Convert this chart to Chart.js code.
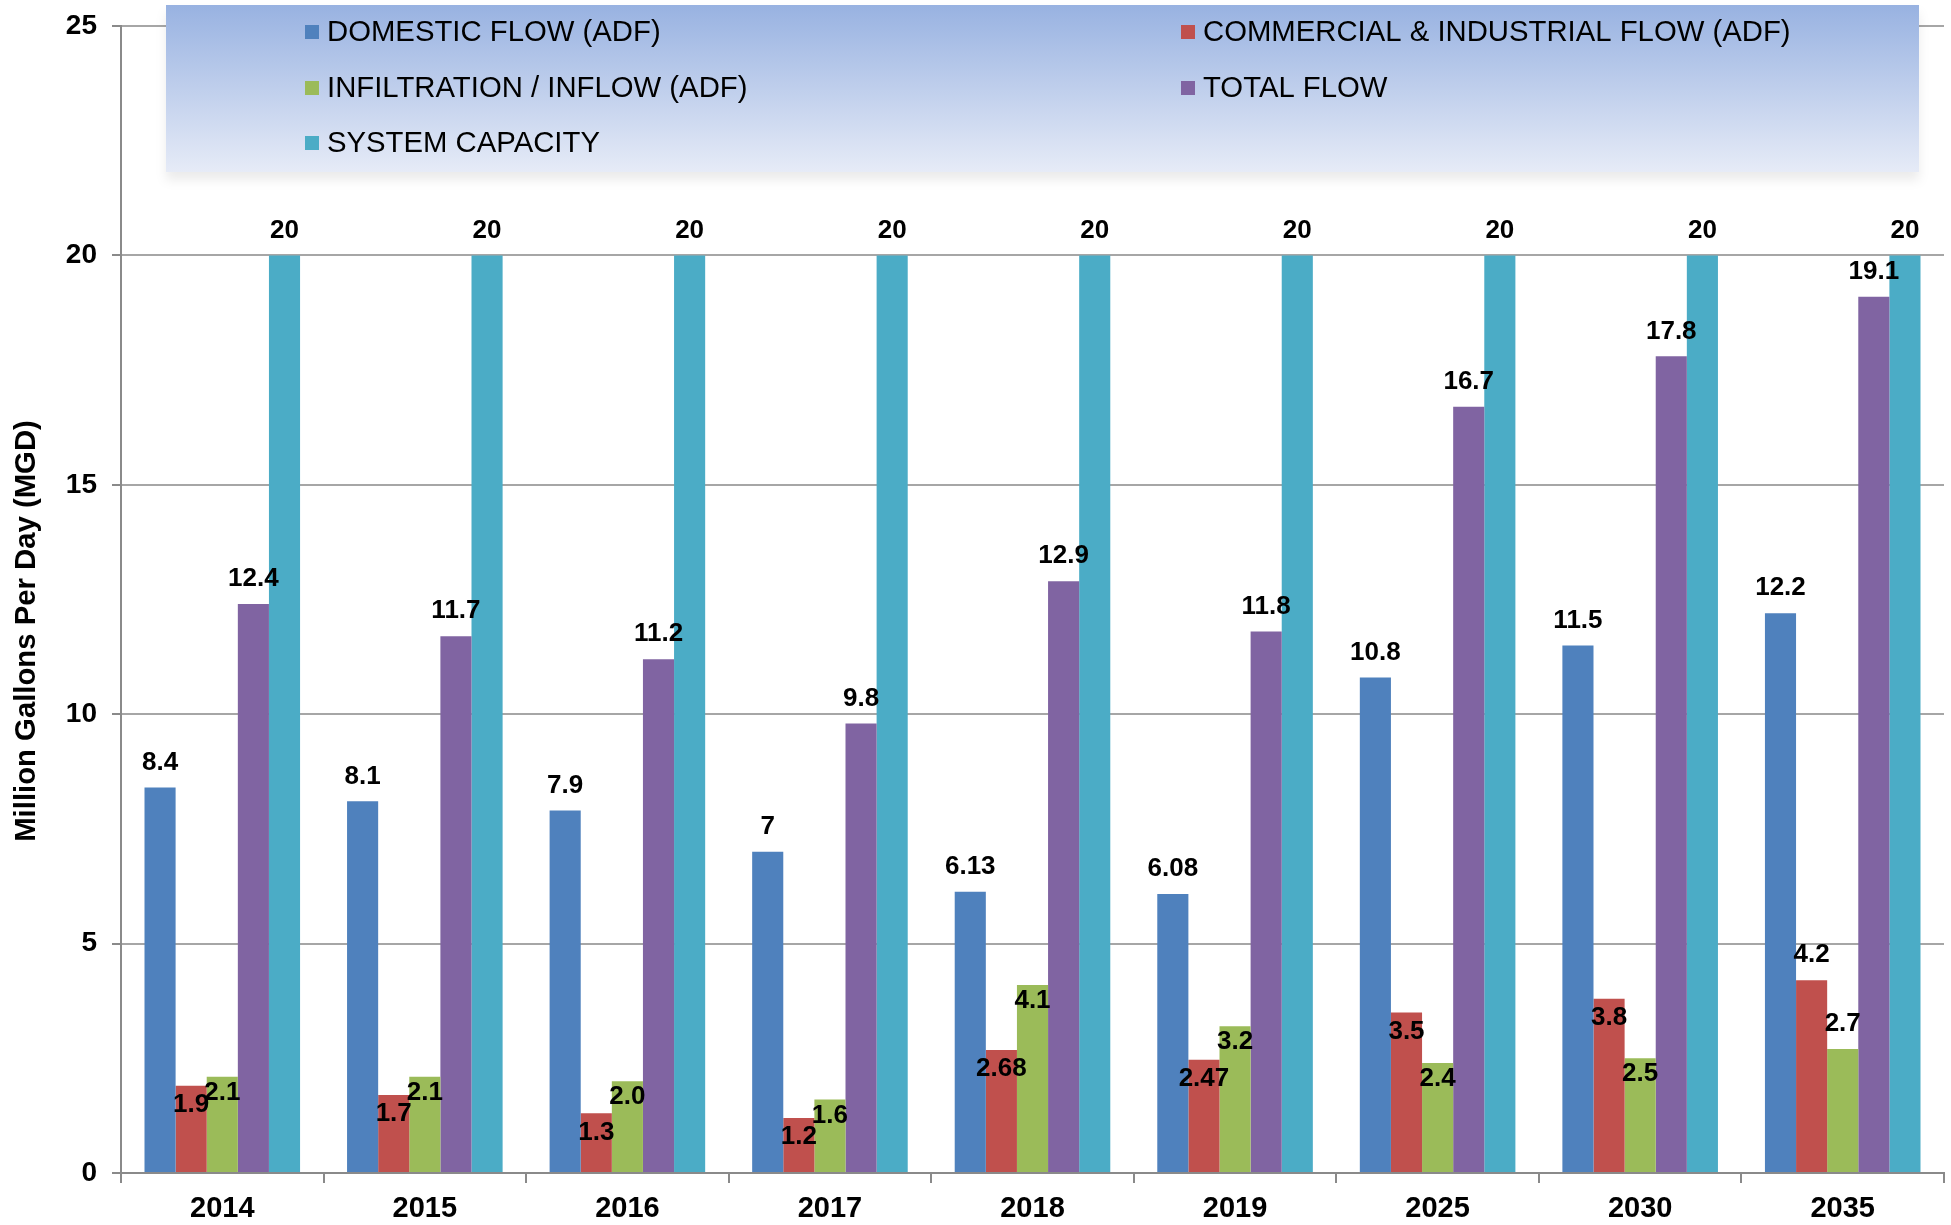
<!DOCTYPE html>
<html>
<head>
<meta charset="utf-8">
<script src="https://cdn.jsdelivr.net/npm/chart.js@4.4.1/dist/chart.umd.min.js"></script>
<style>
    html, body { margin: 0; padding: 0; background: #fff; }
    #wrap { width: 1951px; height: 1225px; }
</style>
</head>
<body>
<div id="wrap"><canvas id="myChart" width="1951" height="1225"></canvas></div>
<script>
// Chart data
const years = ['2014', '2015', '2016', '2017', '2018', '2019', '2025', '2030', '2035'];
const domesticFlow = [8.4, 8.1, 7.9, 7, 6.13, 6.08, 10.8, 11.5, 12.2];
const commercialFlow = [1.9, 1.7, 1.3, 1.2, 2.68, 2.47, 3.5, 3.8, 4.2];
const infiltrationFlow = [2.1, 2.1, 2.0, 1.6, 4.1, 3.2, 2.4, 2.5, 2.7];
const totalFlow = [12.4, 11.7, 11.2, 9.8, 12.9, 11.8, 16.7, 17.8, 19.1];
const systemCapacity = [20, 20, 20, 20, 20, 20, 20, 20, 20];
const yMax = 25;
const yStep = 5;
const yTitle = 'Million Gallons Per Day (MGD)';

// years where the small red / green labels sit above the bar instead of inside
const labelsAboveYears = ['2035'];

const FONT = '"Liberation Sans", Arial, "Helvetica Neue", sans-serif';

// Draws the value labels above / inside the bars
const barLabels = {
    id: 'barLabels',
    afterDatasetsDraw(chart) {
        const ctx = chart.ctx;
        ctx.save();
        ctx.font = 'bold 26px ' + FONT;
        ctx.fillStyle = '#000';
        ctx.textAlign = 'center';
        ctx.textBaseline = 'middle';
        chart.data.datasets.forEach((ds, di) => {
            const meta = chart.getDatasetMeta(di);
            meta.data.forEach((bar, i) => {
                const v = ds.data[i];
                const txt = ds.decimals != null ? v.toFixed(ds.decimals) : String(v);
                const inside = ds.labelInside && !labelsAboveYears.includes(years[i]);
                const y = inside ? bar.y + ds.labelInside : bar.y - 25;
                ctx.fillText(txt, bar.x, y);
            });
        });
        ctx.restore();
    }
};

// Gradient legend box drawn over the top of the plot, plus the y axis title
const boxLegend = {
    id: 'boxLegend',
    beforeDatasetsDraw(chart) {
        const ctx = chart.ctx;
        const box = { x: 166, y: 5, w: 1753, h: 167 };
        ctx.save();
        ctx.shadowColor = 'rgba(0,0,0,0.08)';
        ctx.shadowBlur = 10;
        ctx.shadowOffsetY = 8;
        const grad = ctx.createLinearGradient(0, box.y, 0, box.y + box.h);
        grad.addColorStop(0, '#98b2e1');
        grad.addColorStop(1, '#e6ebf7');
        ctx.fillStyle = grad;
        ctx.fillRect(box.x, box.y, box.w, box.h);
        ctx.restore();

        ctx.save();
        ctx.font = '29.3px ' + FONT;
        ctx.textBaseline = 'middle';
        ctx.textAlign = 'left';
        const cols = [305, 1181];
        const rows = [32, 88, 143];
        chart.data.datasets.forEach((ds, i) => {
            const x = cols[i % 2];
            const y = rows[Math.floor(i / 2)];
            ctx.fillStyle = ds.backgroundColor;
            ctx.fillRect(x, y - 7, 14, 14);
            ctx.fillStyle = '#000';
            ctx.fillText(ds.label, x + 22, y + 1);
        });
        ctx.restore();

        // y axis title, sits a bit below the middle of the axis like the original
        ctx.save();
        ctx.font = 'bold 29.3px ' + FONT;
        ctx.fillStyle = '#000';
        ctx.textAlign = 'center';
        ctx.textBaseline = 'middle';
        ctx.translate(27, 631);
        ctx.rotate(-Math.PI / 2);
        ctx.fillText(yTitle, 0, 0);
        ctx.restore();
    }
};

const ctx = document.getElementById('myChart').getContext('2d');

const chart = new Chart(ctx, {
    type: 'bar',
    data: {
        labels: years,
        datasets: [
            { label: 'DOMESTIC FLOW (ADF)', data: domesticFlow, backgroundColor: '#4f81bd' },
            { label: 'COMMERCIAL & INDUSTRIAL FLOW (ADF)', data: commercialFlow, backgroundColor: '#c0504d', labelInside: 19 },
            { label: 'INFILTRATION / INFLOW (ADF)', data: infiltrationFlow, backgroundColor: '#9bbb59', labelInside: 16, decimals: 1 },
            { label: 'TOTAL FLOW', data: totalFlow, backgroundColor: '#8064a2' },
            { label: 'SYSTEM CAPACITY', data: systemCapacity, backgroundColor: '#4bacc6' }
        ]
    },
    options: {
        responsive: false,
        animation: false,
        devicePixelRatio: 1,
        layout: {
            padding: { top: 26, right: 7, left: 0, bottom: 0 }
        },
        datasets: {
            bar: {
                categoryPercentage: 0.768,
                barPercentage: 1,
                borderWidth: 0
            }
        },
        plugins: {
            legend: { display: false },
            tooltip: { enabled: false }
        },
        scales: {
            x: {
                afterFit: s => { s.height = 52; },
                grid: {
                    offset: true,
                    drawOnChartArea: false,
                    drawTicks: true,
                    tickLength: 10,
                    color: '#8a8a8a',
                    lineWidth: 2
                },
                border: { color: '#8a8a8a', width: 2 },
                ticks: {
                    color: '#000',
                    padding: 9,
                    font: { family: FONT, size: 29, weight: 'bold' }
                }
            },
            y: {
                min: 0,
                max: yMax,
                afterFit: s => { s.width = 121; s.paddingTop = 0; },
                grid: {
                    color: '#a6a6a6',
                    lineWidth: 2,
                    drawTicks: true,
                    tickLength: 9,
                    tickColor: '#8a8a8a'
                },
                border: { color: '#8a8a8a', width: 2 },
                ticks: {
                    stepSize: yStep,
                    color: '#000',
                    padding: 15,
                    font: { family: FONT, size: 28, weight: 'bold' }
                }
            }
        }
    },
    plugins: [boxLegend, barLabels]
});
</script>
</body>
</html>
